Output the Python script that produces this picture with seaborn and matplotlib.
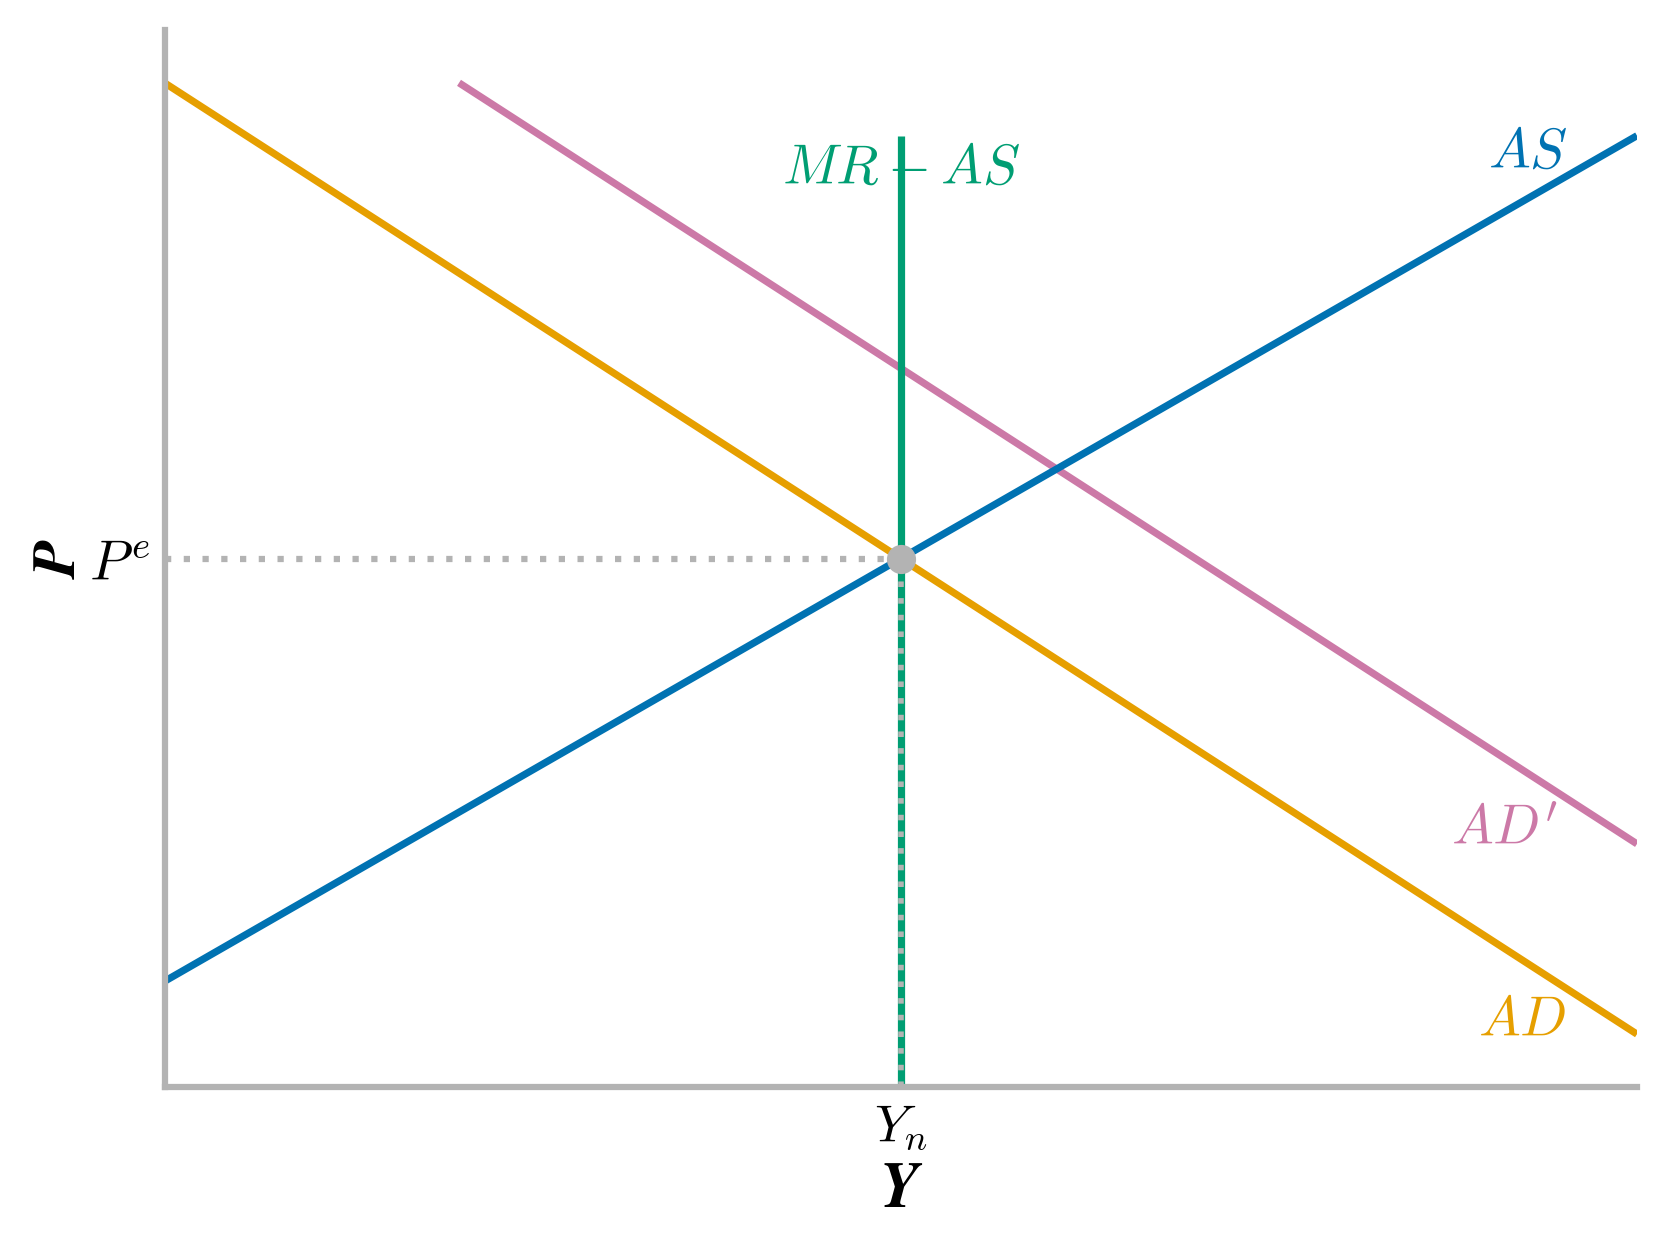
import pandas as pd
import seaborn as sns
import matplotlib.pyplot as plt

# curve endpoints (x, P)
ad_x = [0, 10]
ad_y = [9.5, 0.5]
ad2_x = [2, 10]
ad2_y = [9.5, 2.3]
as_x = [0, 10]
as_y = [1.0, 9.0]
mr_x = [5, 5]
mr_y = [0, 9.0]

y_n = 5
p_e = 5

curve_names = ['AD', "AD'", 'AS', 'MR']
curve_colors = {'AD': '#E69F00', "AD'": '#CC79A7', 'AS': '#0072B2', 'MR': '#009E73'}


def build_df():
    rows = []
    for name, xs, ys in zip(curve_names, [ad_x, ad2_x, as_x, mr_x], [ad_y, ad2_y, as_y, mr_y]):
        for x, y in zip(xs, ys):
            rows.append({'curve': name, 'Y': x, 'P': y})
    return pd.DataFrame(rows)


def main():
    sns.set_theme(style='white')
    plt.rcParams['mathtext.fontset'] = 'cm'
    plt.rcParams['text.color'] = 'black'

    df = build_df()
    fig = plt.figure(figsize=(16.67, 12.5), dpi=100)
    ax = fig.add_axes([0.0987, 0.1304, 0.8833, 0.8456])

    sns.lineplot(data=df, x='Y', y='P', hue='curve', palette=curve_colors,
                 linewidth=5.2, legend=False, ax=ax, sort=False, estimator=None,
                 units='curve', solid_capstyle='butt')

    # guides to the equilibrium
    grey = '#b3b3b3'
    ax.plot([0, y_n], [p_e, p_e], linestyle=(0, (1, 2)), color=grey, lw=4.5)
    ax.plot([y_n, y_n], [0, p_e], linestyle=(0, (1, 2)), color=grey, lw=4)
    ax.plot([y_n], [p_e], 'o', color=grey, markersize=20, zorder=5)

    fs = 40
    ax.text(9.26, 8.84, '$AS$', color=curve_colors['AS'], fontsize=fs, ha='center', va='center')
    ax.text(5.0, 8.69, '$MR - AS$', color=curve_colors['MR'], fontsize=fs, ha='center', va='center')
    ax.text(9.1, 2.44, "$AD'$", color=curve_colors["AD'"], fontsize=fs, ha='center', va='center')
    ax.text(9.22, 0.625, '$AD$', color=curve_colors['AD'], fontsize=fs, ha='center', va='center')

    ax.set_xlim(0, 10)
    ax.set_ylim(0, 10)
    ax.set_xticks([y_n])
    ax.set_xticklabels(['$Y_n$'], fontsize=38, color='black')
    ax.set_yticks([p_e])
    ax.set_yticklabels(['$P^e$'], fontsize=40, color='black')
    ax.tick_params(length=0, pad=10)
    ax.set_xlabel(r'$\boldsymbol{Y}$', fontsize=46, labelpad=4, color='black')
    ax.set_ylabel(r'$\boldsymbol{P}$', fontsize=44, labelpad=1, color='black')

    sns.despine(ax=ax)
    for side in ['left', 'bottom']:
        ax.spines[side].set_color(grey)
        ax.spines[side].set_linewidth(4.5)
        ax.spines[side].set_capstyle('projecting')

    fig.savefig('out.png', dpi=100)
    plt.close()


if __name__ == '__main__':
    main()
